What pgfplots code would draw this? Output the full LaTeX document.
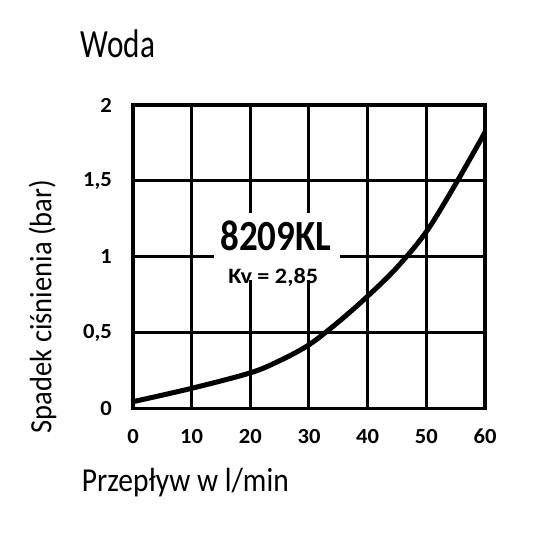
\documentclass[border=0pt]{standalone}
\usepackage{pgfplots}
\pgfplotsset{compat=1.18}
\usepackage{fontspec}
\setmainfont{Carlito}
\newfontfamily\wodafont[FakeStretch=0.78]{Carlito}
\newfontfamily\xlabfont[FakeStretch=0.88]{Carlito}
\newfontfamily\ylabfont[FakeStretch=0.92]{Carlito}
\newfontfamily\bigfont[FakeStretch=0.86]{Carlito}
\newfontfamily\kvfont[FakeStretch=1.1]{Carlito}
\newfontfamily\tickfont[FakeStretch=1.05]{Carlito}
\begin{document}
\begin{tikzpicture}[x=1pt,y=1pt]
\useasboundingbox (-133,-131.5) rectangle (407,408.5);
\begin{axis}[
  at={(0,0)}, anchor=south west,
  scale only axis, width=352pt, height=303.5pt,
  xmin=0, xmax=60, ymin=0, ymax=2,
  xtick={0,10,...,60}, ytick={0,0.5,1,1.5,2},
  xticklabels={0,10,20,30,40,50,60},
  yticklabels={0,{0,5},1,{1,5},2},
  xticklabel style={font=\tickfont\fontsize{21.5}{23}\selectfont\bfseries, anchor=base, inner sep=0pt, yshift=-35pt},
  yticklabel style={font=\tickfont\fontsize{21.5}{23}\selectfont\bfseries, anchor=east, inner sep=0pt, xshift=-21pt},
  major tick length=0pt,
  grid=major,
  grid style={black, line width=3pt},
  axis line style={line width=3.4pt},
  axis on top=false,
]
\fill[white] (axis cs:13.8,0.847) rectangle (axis cs:35.3,1.288);
\addplot[black, line width=5pt, smooth, tension=0.55] coordinates {
(0,0.045) (10,0.133) (20,0.235) (25,0.315) (30,0.42) (35,0.57) (40,0.74) (45,0.93) (50,1.165) (55,1.48) (60,1.82)};
\node[font=\bigfont\fontsize{43}{46}\selectfont\bfseries, anchor=base] at (axis cs:24.36,1.044) {8209KL};
\node[font=\kvfont\fontsize{22}{24}\selectfont\bfseries, anchor=base] at (axis cs:23.9,0.825) {Kv = 2,85};
\end{axis}
\node[anchor=base west, inner sep=0pt, font=\wodafont\fontsize{40}{42}\selectfont] at (-52.3,351.2) {Woda};
\node[anchor=base west, inner sep=0pt, font=\xlabfont\fontsize{33.5}{36}\selectfont] at (-51.3,-83.2) {Przepływ w l/min};
\node[rotate=90, inner sep=0pt, font=\ylabfont\fontsize{31}{33}\selectfont] at (-90.5,102) {Spadek ciśnienia (bar)};
\end{tikzpicture}
\end{document}
